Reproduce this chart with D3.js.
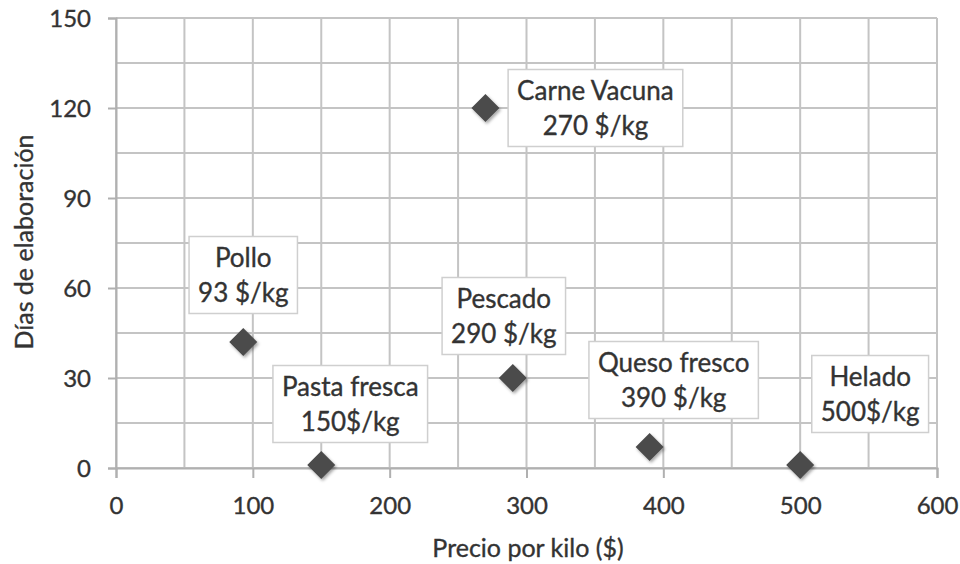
<!DOCTYPE html>
<html>
<head>
<meta charset="utf-8">
<script src="https://cdn.jsdelivr.net/npm/d3@7"></script>
<style>
  html, body { margin: 0; padding: 0; background: #fff; }
  svg { display: block; }
  text { font-family: Lato, "Open Sans", sans-serif; fill: #333; stroke: #333; stroke-width: 0.35px; }
</style>
</head>
<body>
<svg id="chart" width="960" height="564"></svg>
<script>
// ---- data ----
const products = ["Carne Vacuna", "Pollo", "Pescado", "Pasta fresca", "Queso fresco", "Helado"];
const prices   = [270, 93, 290, 150, 390, 500];          // Precio por kilo ($)
const days     = [120, 42, 30, 1, 7, 1];                  // Días de elaboración
const priceLabels = ["270 $/kg", "93 $/kg", "290 $/kg", "150$/kg", "390 $/kg", "500$/kg"];
const xTicks = [0, 100, 200, 300, 400, 500, 600];
const yTicks = [0, 30, 60, 90, 120, 150];
const xTitle = "Precio por kilo ($)";
const yTitle = "Días de elaboración";

// ---- layout (label callout offsets in px, relative to marker) ----
const labelOffsets = [[110, 0], [0, -67], [-9, -62], [29, -61], [24, -67], [70, -71]];

const svg = d3.select("#chart");
const x = d3.scaleLinear().domain([0, 600]).range([116, 937]);
const y = d3.scaleLinear().domain([0, 150]).range([468, 18]);

// drop shadow filter
const defs = svg.append("defs");
const f = defs.append("filter").attr("id", "shadow").attr("x", "-50%").attr("y", "-50%").attr("width", "200%").attr("height", "200%");
f.append("feDropShadow").attr("dx", 1.5).attr("dy", 2).attr("stdDeviation", 1.5).attr("flood-color", "#000").attr("flood-opacity", 0.35);

// grid
const grid = svg.append("g").attr("stroke", "#c4c4c4").attr("stroke-width", 2);
grid.selectAll("line.v").data(d3.range(0, 601, 50)).join("line")
  .attr("x1", d => x(d)).attr("x2", d => x(d)).attr("y1", y(150)).attr("y2", y(0));
grid.selectAll("line.h").data(d3.range(0, 151, 15)).join("line")
  .attr("x1", x(0)).attr("x2", x(600)).attr("y1", d => y(d)).attr("y2", d => y(d));

// axes
const yAxis = svg.append("g").attr("transform", `translate(${x(0)},0)`)
  .call(d3.axisLeft(y).tickValues(yTicks).tickSize(8).tickPadding(17));
const xAxis = svg.append("g").attr("transform", `translate(0,${y(0)})`)
  .call(d3.axisBottom(x).tickValues(xTicks).tickSize(10).tickPadding(19));
[xAxis, yAxis].forEach(a => {
  a.select(".domain").attr("stroke", "#b0b0b0").attr("stroke-width", 2);
  a.selectAll(".tick line").attr("stroke", "#b0b0b0").attr("stroke-width", 2);
  a.selectAll(".tick text").style("font-size", "24px").style("fill", "#333");
});
yAxis.selectAll(".tick text").attr("dy", "0.36em");

// axis titles
svg.append("text").attr("x", 528).attr("y", 557).attr("text-anchor", "middle")
  .style("font-size", "25px").text(xTitle);
svg.append("text").attr("transform", "translate(33,242) rotate(-90)").attr("text-anchor", "middle")
  .style("font-size", "25px").text(yTitle);

// markers
const pts = products.map((p, i) => ({ name: p, price: prices[i], day: days[i], label: priceLabels[i], off: labelOffsets[i] }));
svg.append("g").selectAll("path").data(pts).join("path")
  .attr("transform", d => `translate(${x(d.price)},${y(d.day)})`)
  .attr("d", "M0,-14L14,0L0,14L-14,0Z")
  .attr("fill", "#4b4b4b")
  .attr("filter", "url(#shadow)");

// labels
const lg = svg.append("g").selectAll("g").data(pts).join("g")
  .attr("transform", d => `translate(${x(d.price) + d.off[0]},${y(d.day) + d.off[1]})`);
lg.each(function(d) {
  const g = d3.select(this);
  const rect = g.append("rect").attr("fill", "#fff").attr("stroke", "#cfcfcf").attr("stroke-width", 1.5);
  const t1 = g.append("text").attr("text-anchor", "middle").attr("y", -17).attr("dy", "0.35em").style("font-size", "26px").text(d.name);
  const t2 = g.append("text").attr("text-anchor", "middle").attr("y", 18).attr("dy", "0.35em").style("font-size", "26px").text(d.label);
  const w = Math.max(t1.node().getComputedTextLength(), t2.node().getComputedTextLength()) + 18;
  rect.attr("x", -w / 2).attr("y", -38.5).attr("width", w).attr("height", 77);
});
</script>
</body>
</html>
